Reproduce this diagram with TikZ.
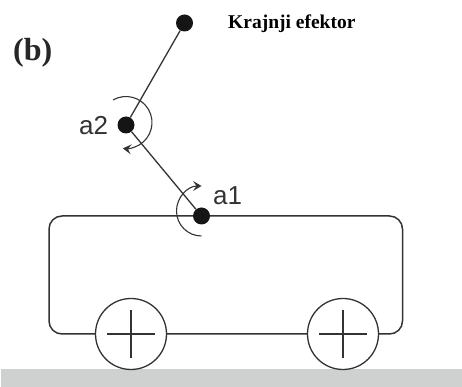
\documentclass[tikz,border=0pt]{standalone}
\usepackage{fontspec}
\setmainfont{Liberation Serif}
\newfontfamily\labelsans{Liberation Sans}
\usetikzlibrary{arrows.meta}
\definecolor{ink}{HTML}{333333}
\definecolor{joint}{HTML}{151515}
\definecolor{ground}{HTML}{CFD1D0}
\tikzset{
  x=1pt,y=1pt,
  jointdot/.style={circle,fill=joint,draw=none,inner sep=0pt,minimum size=17pt},
  linkline/.style={draw=ink,line width=1.3pt},
  bodyline/.style={draw=ink,line width=1.5pt,rounded corners=13pt},
  wheelnode/.style={circle,draw=ink,fill=white,line width=1.3pt,inner sep=0pt,minimum size=71pt},
  crossline/.style={draw=ink,line width=1.1pt},
  anglearc/.style={draw=ink,line width=1.1pt},
  anglearrow/.style={anglearc,-{Stealth[length=8.5pt,width=10pt,inset=3.5pt]}},
  jointlabel/.style={font=\labelsans\fontsize{26}{26}\selectfont,text=ink,anchor=base west,inner sep=0pt},
}
\begin{document}
\begin{tikzpicture}
\useasboundingbox (0,0) rectangle (462,387);
\fill[ground] (1,0) rectangle (462,18);
\draw[bodyline] (201.5,171) -- (402.5,171) -- (402.5,53) -- (49,53) -- (49,171) -- cycle;
\node[wheelnode] (w1) at (131,53) {};
\node[wheelnode] (w2) at (343,53) {};
\draw[crossline] (107,53) -- (155,53) (131,29) -- (131,77);
\draw[crossline] (319,53) -- (367,53) (343,29) -- (343,77);
\node[jointdot] (ee) at (184.5,364) {};
\node[jointdot] (j2) at (126,262) {};
\node[jointdot] (j1) at (201.5,171) {};
\draw[linkline] (j1) -- (j2);
\draw[linkline] (j2) -- (ee);
\draw[anglearrow] (201.5,151) arc[start angle=-90,end angle=-270,radius=25];
\draw[anglearrow] (113,287) arc[start angle=120,end angle=-97,radius=26];
\node[jointlabel] (a1) at (213,182) {a1};
\node[jointlabel] (a2) at (79,252) {a2};
\node[font=\bfseries\fontsize{19.5}{20}\selectfont,text=black,anchor=base west,inner sep=0pt] (kef) at (228,358) {Krajnji efektor};
\node[font=\bfseries\fontsize{32}{32}\selectfont,text=black!85,anchor=base west,inner sep=0pt] (b) at (13,326) {(b)};
\end{tikzpicture}
\end{document}
